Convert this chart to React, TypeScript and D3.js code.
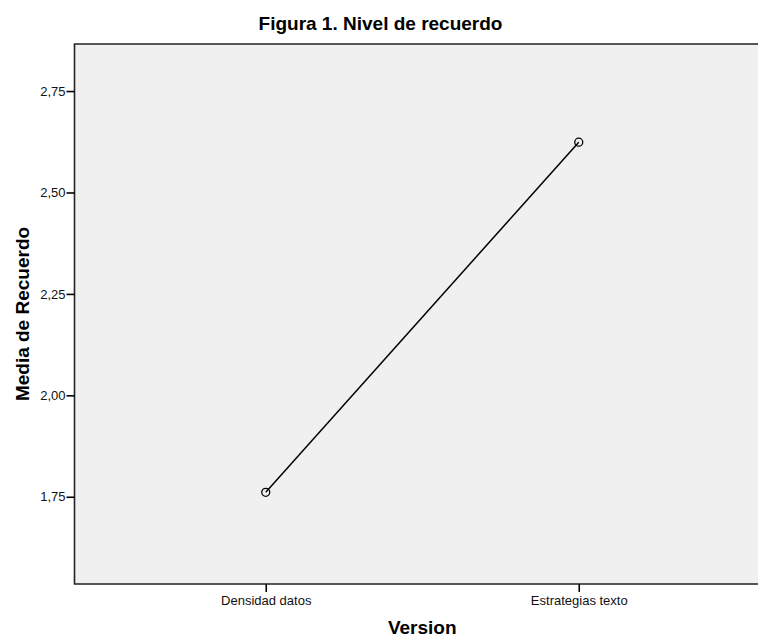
import { useEffect, useRef } from 'react';
import * as d3 from 'd3';

const CATEGORIES = ['Densidad datos', 'Estrategias texto'];
const MEANS = [1.761, 2.624];
const Y_TICKS = [1.75, 2.0, 2.25, 2.5, 2.75];

const WIDTH = 758;
const HEIGHT = 637;
const MARGIN = { top: 44, right: -12, bottom: 53, left: 74.5 };
const FONT = 'Arial, "Liberation Sans", sans-serif';

export default function App() {
  const svgRef = useRef<SVGSVGElement>(null);

  useEffect(() => {
    const svg = d3.select(svgRef.current);
    svg.selectAll('*').remove();

    const innerW = WIDTH - MARGIN.left - MARGIN.right;
    const innerH = HEIGHT - MARGIN.top - MARGIN.bottom;

    const x = d3.scalePoint<string>().domain(CATEGORIES).range([0, innerW]).padding(0.611);
    const y = d3.scaleLinear().domain([1.535, 2.866]).range([innerH, 0]);

    const g = svg.append('g').attr('transform', `translate(${MARGIN.left},${MARGIN.top})`);

    g.append('rect')
      .attr('width', innerW)
      .attr('height', innerH)
      .attr('fill', '#f0f0f0');

    // frame: top, left, bottom (right side runs off the picture)
    g.append('path')
      .attr('d', `M${innerW},0H0V${innerH}H${innerW}`)
      .attr('fill', 'none')
      .attr('stroke', '#222')
      .attr('stroke-width', 1.6);

    // y axis
    g.append('g')
      .call(
        d3.axisLeft(y)
          .tickValues(Y_TICKS)
          .tickSize(8)
          .tickPadding(1)
          .tickFormat((d) => d3.format('.2f')(d as number).replace('.', ','))
      )
      .call((ax) => {
        ax.select('.domain').remove();
        ax.selectAll('.tick line').attr('stroke', '#000').attr('stroke-width', 1.6);
        ax.selectAll('.tick text').attr('fill', '#111').attr('font-size', 13).attr('font-family', FONT);
      });

    // x axis
    g.append('g')
      .attr('transform', `translate(0,${innerH})`)
      .call(d3.axisBottom(x).tickSize(8).tickPadding(4))
      .call((ax) => {
        ax.select('.domain').remove();
        ax.selectAll('.tick line').attr('stroke', '#000').attr('stroke-width', 1.6);
        ax.selectAll('.tick text').attr('fill', '#111').attr('font-size', 13).attr('font-family', FONT);
      });

    const pts = CATEGORIES.map((c, i) => [x(c)!, y(MEANS[i])] as [number, number]);

    g.append('path')
      .attr('d', d3.line()(pts))
      .attr('fill', 'none')
      .attr('stroke', '#000')
      .attr('stroke-width', 1.5);

    g.selectAll('circle.pt')
      .data(pts)
      .join('circle')
      .attr('class', 'pt')
      .attr('cx', (d) => d[0])
      .attr('cy', (d) => d[1])
      .attr('r', 4)
      .attr('fill', 'none')
      .attr('stroke', '#000')
      .attr('stroke-width', 1.3);

    svg.append('text')
      .attr('x', 380.5)
      .attr('y', 30)
      .attr('text-anchor', 'middle')
      .attr('font-family', FONT)
      .attr('font-weight', 'bold')
      .attr('font-size', 19)
      .text('Figura 1. Nivel de recuerdo');

    svg.append('text')
      .attr('transform', `translate(29,${MARGIN.top + innerH / 2}) rotate(-90)`)
      .attr('text-anchor', 'middle')
      .attr('font-family', FONT)
      .attr('font-weight', 'bold')
      .attr('font-size', 19)
      .text('Media de Recuerdo');

    svg.append('text')
      .attr('x', MARGIN.left + innerW / 2)
      .attr('y', 634)
      .attr('text-anchor', 'middle')
      .attr('font-family', FONT)
      .attr('font-weight', 'bold')
      .attr('font-size', 19)
      .text('Version');
  }, []);

  return (
    <div style={{ position: 'absolute', left: 0, top: 0, background: '#fff' }}>
      <svg ref={svgRef} width={WIDTH} height={HEIGHT} style={{ display: 'block' }} />
    </div>
  );
}
